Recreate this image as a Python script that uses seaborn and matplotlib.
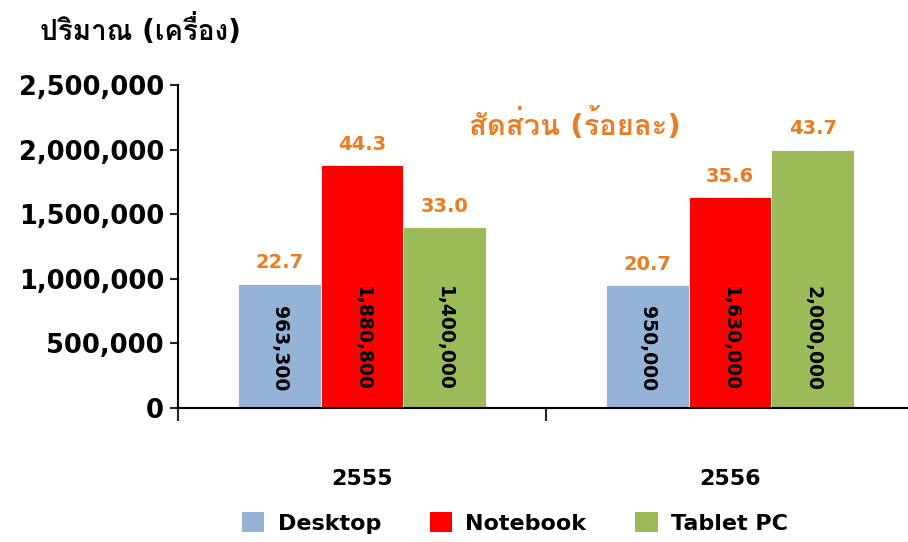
import matplotlib
matplotlib.use("Agg")
import matplotlib.pyplot as plt
from matplotlib import font_manager, ft2font
from matplotlib.patches import Patch
import pandas as pd
import seaborn as sns

# data
years = ["2555", "2556"]
devices = ["Desktop", "Notebook", "Tablet PC"]
units_2555 = [963300, 1880800, 1400000]
units_2556 = [950000, 1630000, 2000000]
share_2555 = [22.7, 44.3, 33.0]
share_2556 = [20.7, 35.6, 43.7]
yticks = [0, 500000, 1000000, 1500000, 2000000, 2500000]

colors = ["#95B3D7", "#FF0000", "#9BBB59"]
orange = "#EC7C22"

df = pd.DataFrame({
    "year": [years[0]] * 3 + [years[1]] * 3,
    "device": devices * 2,
    "units": units_2555 + units_2556,
    "share": share_2555 + share_2556,
})

sns.set_style("white")


# find a font that has Thai glyphs, if there is one
def find_thai_font():
    names = []
    for f in font_manager.fontManager.ttflist:
        try:
            cmap = ft2font.FT2Font(f.fname).get_charmap()
        except Exception:
            continue
        if 0x0E1B in cmap and 0x0E21 in cmap:
            names.append(f.name)
    return names


thai = find_thai_font()
plt.rcParams["font.family"] = ["DejaVu Sans"] + thai[:1]
plt.rcParams["text.color"] = "black"

fig = plt.figure(figsize=(9.08, 5.42), dpi=100)
ax = fig.add_axes([178 / 908, 134 / 542, 736 / 908, 323 / 542])

sns.barplot(data=df, x="year", y="units", hue="device", palette=colors,
            saturation=1, width=0.674, gap=0, ax=ax, legend=False,
            edgecolor="white", linewidth=0.6)

ax.set_ylim(0, 2500000)
ax.set_xlim(-0.5, 1.5)
ax.set_yticks(yticks)
ax.set_yticklabels([f"{v:,}" for v in yticks], fontsize=18.5, fontweight="bold")
ax.tick_params(axis="y", direction="out", length=6, width=1.5, pad=4, left=True,
               labelcolor="black")
ax.set_xticks([0, 1])
ax.set_xticklabels(years, fontsize=16, fontweight="bold")
ax.tick_params(axis="x", which="major", length=0, pad=44, labelcolor="black")
ax.set_xticks([-0.5, 0.5, 1.5], minor=True)
ax.tick_params(axis="x", which="minor", direction="out", length=9, width=1.5, bottom=True)
ax.set_xlabel("")
ax.set_ylabel("")

for side in ["top", "right"]:
    ax.spines[side].set_visible(False)
for side in ["left", "bottom"]:
    ax.spines[side].set_color("black")
    ax.spines[side].set_linewidth(1.5)

# labels: share on top, units inside near the base
for i, cont in enumerate(ax.containers):
    shares = [share_2555[i], share_2556[i]]
    ax.bar_label(cont, labels=[f"{s:.1f}" for s in shares], padding=8,
                 color=orange, fontsize=14, fontweight="bold")
    for bar, val in zip(cont, [units_2555[i], units_2556[i]]):
        ax.annotate(f"{val:,}", (bar.get_x() + bar.get_width() / 2, 0),
                    xytext=(0, 17), textcoords="offset pixels",
                    rotation=270, ha="center", va="bottom",
                    fontsize=13.5, fontweight="bold", color="black")

fig.text(40 / 908, 1 - 30 / 542, "ปริมาณ (เครื่อง)", ha="left", va="center",
         fontsize=20, fontweight="bold", color="black")
fig.text(575 / 908, 1 - 125 / 542, "สัดส่วน (ร้อยละ)", ha="center", va="center",
         fontsize=21, fontweight="bold", color=orange)

handles = [Patch(facecolor=c, edgecolor="none") for c in colors]
fig.legend(handles, devices, loc="center", bbox_to_anchor=(515 / 908, 1 - 523 / 542),
           ncol=3, frameon=False, handlelength=1.0, handleheight=1.0,
           handletextpad=0.6, columnspacing=2.2, labelcolor="black",
           prop={"size": 16, "weight": "bold"})

fig.savefig("out.png", dpi=100)
